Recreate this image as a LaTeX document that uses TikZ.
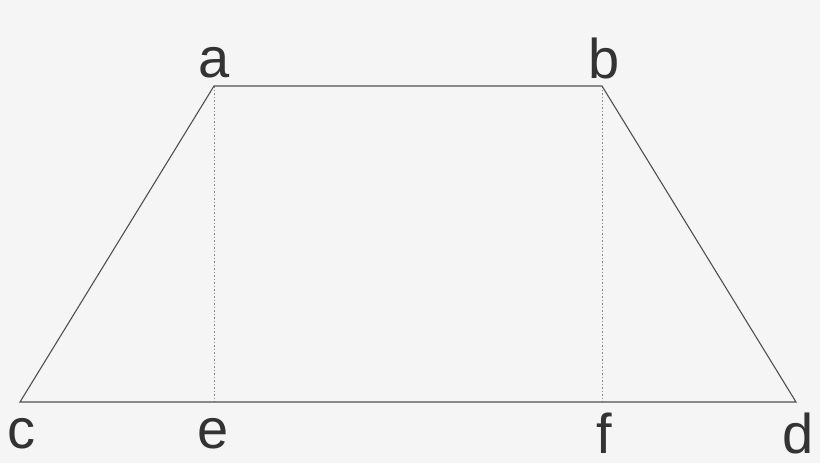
\documentclass[tikz,border=0pt]{standalone}
\usepackage{fontspec}
\setmainfont{Liberation Sans}
\usepackage{xcolor}
\usetikzlibrary{calc,positioning}
\definecolor{bgcol}{HTML}{F5F5F5}
\definecolor{edgecol}{HTML}{505050}
\definecolor{dotcol}{HTML}{8A8A8A}
\tikzset{
  side/.style={draw=edgecol,line width=1.1pt},
  height/.style={draw=dotcol,line width=0.8pt,dash pattern=on 1.5pt off 2pt},
  lbl/.style={anchor=base,inner sep=0pt,text=black!80,font=\fontsize{56}{60}\selectfont}
}
\begin{document}
\begin{tikzpicture}[x=1pt,y=-1pt]
                \fill[bgcol](0,0)rectangle(820,463);
                \useasboundingbox(0,0)rectangle(820,463);
                \coordinate (a) at (214,86);
                \coordinate (b) at (602,86);
                \coordinate (c) at (20,402);
                \coordinate (d) at (796,402);
                \coordinate (e) at (214,402);
                \coordinate (f) at (602,402);
                \draw[height](a)--(e);
                \draw[height](b)--(f);
                \draw[side,line join=miter](c)--(a)--(b)--(d)--cycle;
                \node[lbl] at (214,77)(la){a};
                \node[lbl] at (604,78)(lb){b};
                \node[lbl] at (22,448)(lc){c};
                \node[lbl] at (213,448)(le){e};
                \node[lbl] at (604,453)(lf){f};
                \node[lbl] at (798,453)(ld){d};
\end{tikzpicture}
\end{document}
